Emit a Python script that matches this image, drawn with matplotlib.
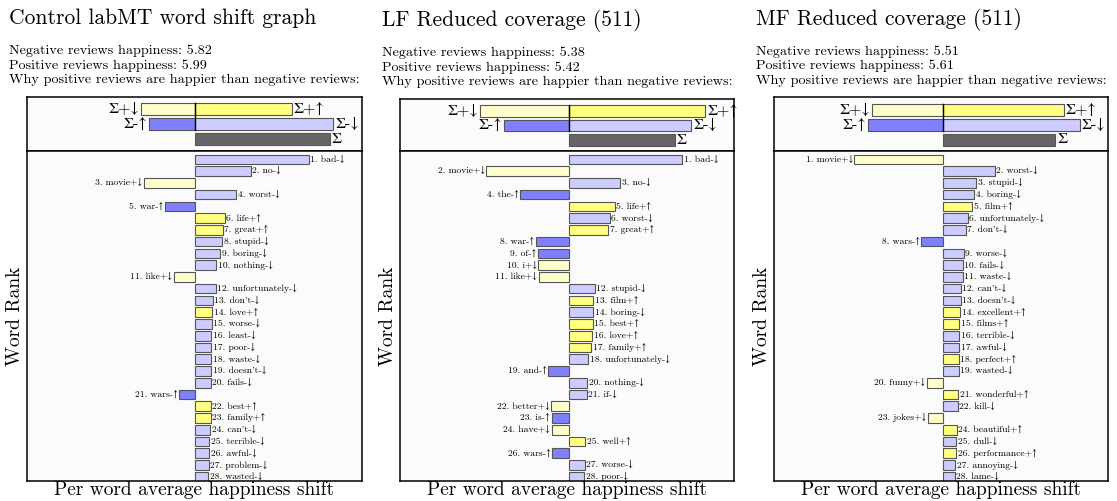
"""
Word shift graphs: three panels comparing positive and negative reviews.
"""
import matplotlib
matplotlib.use('Agg')
import matplotlib.pyplot as plt

W, H = 1117, 501

titles = ["Control labMT word shift graph",
          "LF Reduced coverage (511)",
          "MF Reduced coverage (511)"]
neg_happiness = [5.82, 5.38, 5.51]
pos_happiness = [5.99, 5.42, 5.61]

# summary bars: [sum +down, sum +up, sum -up, sum -down, total]
summary = [[-54, 97, -46, 138, 135],
           [-89, 136.7, -64.3, 122.7, 106],
           [-71, 121.3, -75, 137.3, 112.6]]

words1 = ["bad-↓", "no-↓", "movie+↓", "worst-↓", "war-↑", "life+↑", "great+↑",
          "stupid-↓", "boring-↓", "nothing-↓", "like+↓", "unfortunately-↓",
          "don't-↓", "love+↑", "worse-↓", "least-↓", "poor-↓", "waste-↓",
          "doesn't-↓", "fails-↓", "wars-↑", "best+↑", "family+↑", "can't-↓",
          "terrible-↓", "awful-↓", "problem-↓", "wasted-↓"]
shift1 = [114, 56, -51, 41, -30, 30, 28, 27, 25, 21, -21, 20.7, 17.7, 17.3,
          16.7, 16.4, 16.3, 16.2, 16.1, 16.0, -15.7, 15.7, 15.6, 15.3, 14.3,
          14.2, 14.0, 13.3]

words2 = ["bad-↓", "movie+↓", "no-↓", "the-↑", "life+↑", "worst-↓", "great+↑",
          "war-↑", "of-↑", "i+↓", "like+↓", "stupid-↓", "film+↑", "boring-↓",
          "best+↑", "love+↑", "family+↑", "unfortunately-↓", "and-↑",
          "nothing-↓", "if-↓", "better+↓", "is-↑", "have+↓", "well+↑",
          "wars-↑", "worse-↓", "poor-↓"]
shift2 = [113.7, -82.3, 51.7, -48.3, 46.3, 41, 39.7, -32.7, -30.7, -30.3,
          -30, 26, 24.7, 24.6, 24.3, 23.7, 22.7, 19.7, -20.3, 18.7, 18,
          -17.3, -17.2, -17.1, 16.7, -16.6, 16, 15.7]

words3 = ["movie+↓", "worst-↓", "stupid-↓", "boring-↓", "film+↑",
          "unfortunately-↓", "don't-↓", "wars-↑", "worse-↓", "fails-↓",
          "waste-↓", "can't-↓", "doesn't-↓", "excellent+↑", "films+↑",
          "terrible-↓", "awful-↓", "perfect+↑", "wasted-↓", "funny+↓",
          "wonderful+↑", "kill-↓", "jokes+↓", "beautiful+↑", "dull-↓",
          "performance+↑", "annoying-↓", "lame-↓"]
shift3 = [-88.3, 52, 33.7, 31.7, 29.7, 25, 23, -21.3, 21, 20, 19.8, 18,
          17.8, 17.3, 16.7, 16.6, 16.5, 16, 15.9, -15.6, 15.3, 15, -15,
          14, 13.7, 13.6, 12.7, 12.3]

colors = {'+↑': '#ffff80', '+↓': '#ffffcc', '-↑': '#8080ff',
          '-↓': '#ccccff'}

plt.rcParams['font.family'] = ['cmr10', 'STIXGeneral', 'DejaVu Serif']


def box(left, top, width, height):
    return [left / W, 1 - (top + height) / H, width / W, height / H]


def draw_panel(fig, i, words, shifts, left, width, center, top, dy):
    """Draw one word shift panel with header texts, summary and word bars."""
    xlim = (left - center, left + width - center)
    tx = left - 18

    fig.text(tx / W, 1 - (24 + dy) / H, titles[i], fontsize=15.5,
             va='baseline')
    lines = ["Negative reviews happiness: %.2f" % neg_happiness[i],
             "Positive reviews happiness: %.2f" % pos_happiness[i],
             "Why positive reviews are happier than negative reviews:"]
    for k, line in enumerate(lines):
        fig.text(tx / W, 1 - (54 + 14.5 * k + dy) / H, line, fontsize=10.2,
                 va='baseline')

    # summary box
    ax1 = fig.add_axes(box(left, top, width, 151 - top))
    s = summary[i]
    ax1.barh([1, 1], [s[0], s[1]], height=0.8,
             color=[colors['+↓'], colors['+↑']], edgecolor='#555555', lw=0.8)
    ax1.barh([2, 2], [s[2], s[3]], height=0.8,
             color=[colors['-↑'], colors['-↓']], edgecolor='#555555', lw=0.8)
    ax1.barh([3], [s[4]], height=0.8, color='#666666', edgecolor='#555555',
             lw=0.8)
    ax1.plot([0, 0], [0.6, 2.4], color='black', lw=1)
    fs = 11.5
    ax1.text(s[0] - 2, 1, 'Σ+↓', ha='right', va='center', fontsize=fs)
    ax1.text(s[1] + 2, 1, 'Σ+↑', ha='left', va='center', fontsize=fs)
    ax1.text(s[2] - 2, 2, 'Σ-↑', ha='right', va='center', fontsize=fs)
    ax1.text(s[3] + 2, 2, 'Σ-↓', ha='left', va='center', fontsize=fs)
    ax1.text(s[4] + 2, 3, 'Σ', ha='left', va='center', fontsize=fs)
    ax1.set_xlim(xlim)
    ax1.set_ylim(3.77, 0.17)

    # word bars
    ax2 = fig.add_axes(box(left, 151, width, 330))
    ranks = list(range(1, len(words) + 1))
    ax2.barh(ranks, shifts, height=0.82,
             color=[colors[w[-2:]] for w in words],
             edgecolor='#555555', lw=0.8)
    for r, w, v in zip(ranks, words, shifts):
        label = "%d. %s" % (r, w)
        if v > 0:
            ax2.text(v + 1.5, r, label, ha='left', va='center', fontsize=6.9,
                     clip_on=True)
        else:
            ax2.text(v - 1.5, r, label, ha='right', va='center',
                     fontsize=6.9, clip_on=True)
    ax2.set_xlim(xlim)
    ax2.set_ylim(28.36, 0.29)
    ax2.set_ylabel('Word Rank', fontsize=14, labelpad=2)
    ax2.set_xlabel('Per word average happiness shift', fontsize=14,
                   labelpad=0)

    for ax in (ax1, ax2):
        ax.set_facecolor('#fbfbfb')
        ax.set_xticks([])
        ax.set_yticks([])
        for sp in ax.spines.values():
            sp.set_linewidth(1.1)


def main():
    fig = plt.figure(figsize=(W / 100, H / 100), dpi=100)
    draw_panel(fig, 0, words1, shift1, 27, 335, 195, 97, 0)
    draw_panel(fig, 1, words2, shift2, 400, 334, 568.7, 99, 2)
    draw_panel(fig, 2, words3, shift3, 774, 334, 942.7, 97.5, 1)
    fig.savefig('out.png', dpi=100)


if __name__ == "__main__":
    main()
